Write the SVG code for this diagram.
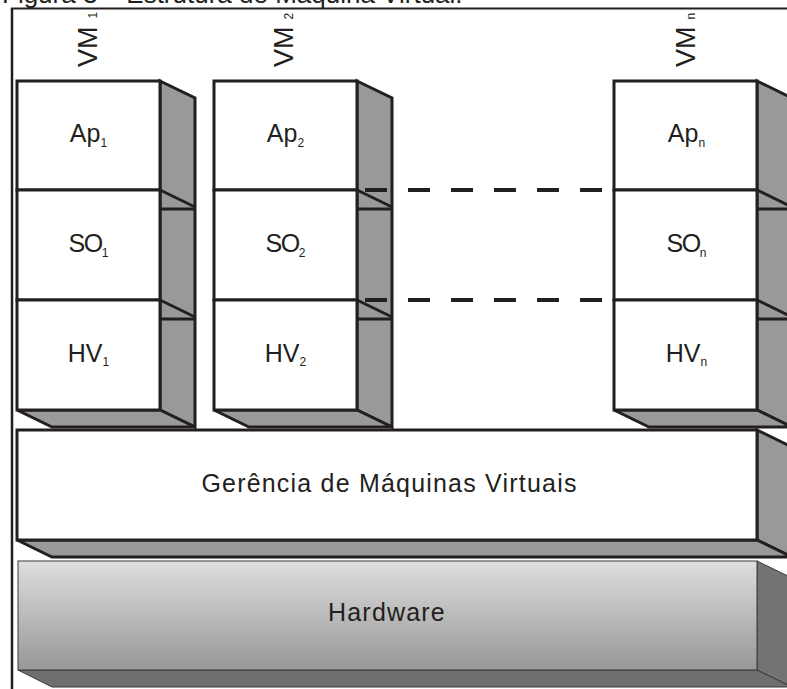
<svg xmlns="http://www.w3.org/2000/svg" width="787" height="689" viewBox="0 0 787 689">
<defs>
<style>
.t{font-family:"Liberation Sans",Arial,sans-serif;fill:#231f20}
.lbl{font-size:25px;text-anchor:middle}
.sub{font-size:12px}
.vm{font-size:27px}
.front{fill:#fff;stroke:#231f20;stroke-width:3}
.side{fill:#999;stroke:#231f20;stroke-width:3;stroke-linejoin:miter}
.ln{stroke:#231f20;stroke-width:3;fill:none}
.dash{stroke:#231f20;stroke-width:4;stroke-dasharray:22 21;fill:none}
</style>
<linearGradient id="hw" x1="0" y1="0" x2="0" y2="1">
<stop offset="0" stop-color="#dedede"/>
<stop offset="1" stop-color="#979797"/>
</linearGradient>
</defs>
<rect width="787" height="689" fill="#fff"/>
<text class="t" x="2" y="3" font-size="26">Figura 3 – Estrutura de Máquina Virtual.</text>
<g id="frame">
<line x1="11" y1="8.5" x2="787" y2="8.5" stroke="#231f20" stroke-width="2"/>
<line x1="12" y1="8" x2="12" y2="689" stroke="#231f20" stroke-width="2.5"/>
</g>

<g id="vm1">
<polygon class="side" points="160,81 195,98 195,427 160,410"/>
<polygon class="side" points="17,410 160,410 195,427 52,427"/>
<line class="ln" x1="160" y1="190" x2="195" y2="207"/><line class="ln" x1="160" y1="209" x2="195" y2="209"/>
<line class="ln" x1="160" y1="300" x2="195" y2="317"/><line class="ln" x1="160" y1="319" x2="195" y2="319"/>
<rect class="front" x="17" y="81" width="143" height="109"/>
<rect class="front" x="17" y="190" width="143" height="110"/>
<rect class="front" x="17" y="300" width="143" height="110"/>
<text class="t lbl" x="88.5" y="142">Ap<tspan class="sub" dy="5">1</tspan></text>
<text class="t lbl" x="88.5" y="252" letter-spacing="-1.5">SO<tspan class="sub" dy="5" letter-spacing="0">1</tspan></text>
<text class="t lbl" x="88.5" y="362">HV<tspan class="sub" dy="4">1</tspan></text>
<text class="t vm" transform="translate(97,67) rotate(-90)">VM<tspan class="sub" font-size="10" dx="8">1</tspan></text>
</g>

<g id="vm2">
<polygon class="side" points="357,81 392,98 392,427 357,410"/>
<polygon class="side" points="214,410 357,410 392,427 249,427"/>
<line class="ln" x1="357" y1="190" x2="392" y2="207"/><line class="ln" x1="357" y1="209" x2="392" y2="209"/>
<line class="ln" x1="357" y1="300" x2="392" y2="317"/><line class="ln" x1="357" y1="319" x2="392" y2="319"/>
<rect class="front" x="214" y="81" width="143" height="109"/>
<rect class="front" x="214" y="190" width="143" height="110"/>
<rect class="front" x="214" y="300" width="143" height="110"/>
<text class="t lbl" x="285.5" y="142">Ap<tspan class="sub" dy="5">2</tspan></text>
<text class="t lbl" x="285.5" y="252" letter-spacing="-1.5">SO<tspan class="sub" dy="5" letter-spacing="0">2</tspan></text>
<text class="t lbl" x="285.5" y="362">HV<tspan class="sub" dy="4">2</tspan></text>
<text class="t vm" transform="translate(293,67) rotate(-90)">VM<tspan class="sub" font-size="11" dx="7">2</tspan></text>
</g>

<g id="vmn">
<polygon class="side" points="757,81 792,98 792,427 757,410"/>
<polygon class="side" points="614,410 757,410 792,427 649,427"/>
<line class="ln" x1="757" y1="190" x2="792" y2="207"/><line class="ln" x1="757" y1="209" x2="792" y2="209"/>
<line class="ln" x1="757" y1="300" x2="792" y2="317"/><line class="ln" x1="757" y1="319" x2="792" y2="319"/>
<rect class="front" x="614" y="81" width="143" height="109"/>
<rect class="front" x="614" y="190" width="143" height="110"/>
<rect class="front" x="614" y="300" width="143" height="110"/>
<text class="t lbl" x="686.5" y="142">Ap<tspan class="sub" dy="5">n</tspan></text>
<text class="t lbl" x="686.5" y="252" letter-spacing="-1.5">SO<tspan class="sub" dy="5" letter-spacing="0">n</tspan></text>
<text class="t lbl" x="686.5" y="362">HV<tspan class="sub" dy="4">n</tspan></text>
<text class="t vm" transform="translate(695,67) rotate(-90)">VM<tspan class="sub" font-size="11" dx="7">n</tspan></text>
</g>

<g id="gerencia">
<polygon class="side" points="757,430 792,447 792,557 757,540"/>
<polygon class="side" points="17,540 757,540 792,557 52,557"/>
<rect class="front" x="17" y="430" width="740" height="110"/>
<text class="t" x="389.5" y="492" font-size="25" text-anchor="middle" letter-spacing="1.2">Gerência de Máquinas Virtuais</text>
</g>

<g id="hardware">
<polygon points="757,561 792,578 792,687 757,670" fill="#737373" stroke="#3a3a3a" stroke-width="1"/>
<polygon points="18,670 757,670 792,687 52,687" fill="#6f6f6f" stroke="#3a3a3a" stroke-width="1"/>
<rect x="18" y="561" width="739" height="109" fill="url(#hw)" stroke="#3a3a3a" stroke-width="1"/>
<text class="t" x="387" y="621" font-size="25" text-anchor="middle" letter-spacing="1.2">Hardware</text>
</g>

<g id="connectors">
<line class="dash" x1="365" y1="190" x2="603" y2="190"/>
<line class="dash" x1="365" y1="300" x2="603" y2="300"/>
</g>
</svg>
